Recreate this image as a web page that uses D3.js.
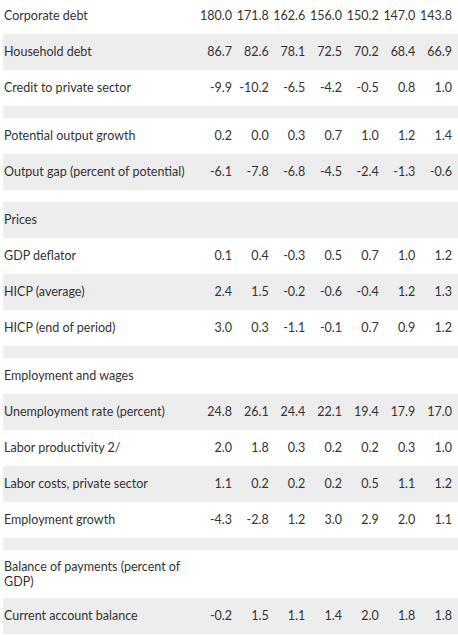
<!DOCTYPE html>
<html><head><meta charset="utf-8">
<script src="https://cdn.jsdelivr.net/npm/d3@7"></script>
<style>
html,body{margin:0;padding:0;background:#fff;overflow:hidden}
text{font-family:Lato,"Open Sans",sans-serif;fill:#333}
</style></head>
<body><svg id="chart" width="458" height="635"></svg>
<script>
// ---- data ----
const columns = ["c1","c2","c3","c4","c5","c6","c7"];
const rowLabels = [
  "Corporate debt","Household debt","Credit to private sector","",
  "Potential output growth","Output gap (percent of potential)","",
  "Prices","GDP deflator","HICP (average)","HICP (end of period)","",
  "Employment and wages","Unemployment rate (percent)","Labor productivity 2/",
  "Labor costs, private sector","Employment growth","",
  "Balance of payments (percent of GDP)","Current account balance"
];
const corporateDebt = [180.0,171.8,162.6,156.0,150.2,147.0,143.8];
const householdDebt = [86.7,82.6,78.1,72.5,70.2,68.4,66.9];
const creditPrivate = [-9.9,-10.2,-6.5,-4.2,-0.5,0.8,1.0];
const potentialGrowth = [0.2,0.0,0.3,0.7,1.0,1.2,1.4];
const outputGap = [-6.1,-7.8,-6.8,-4.5,-2.4,-1.3,-0.6];
const gdpDeflator = [0.1,0.4,-0.3,0.5,0.7,1.0,1.2];
const hicpAvg = [2.4,1.5,-0.2,-0.6,-0.4,1.2,1.3];
const hicpEnd = [3.0,0.3,-1.1,-0.1,0.7,0.9,1.2];
const unemployment = [24.8,26.1,24.4,22.1,19.4,17.9,17.0];
const laborProductivity = [2.0,1.8,0.3,0.2,0.2,0.3,1.0];
const laborCosts = [1.1,0.2,0.2,0.2,0.5,1.1,1.2];
const employmentGrowth = [-4.3,-2.8,1.2,3.0,2.9,2.0,1.1];
const currentAccount = [-0.2,1.5,1.1,1.4,2.0,1.8,1.8];
const rowValues = [
  corporateDebt,householdDebt,creditPrivate,null,
  potentialGrowth,outputGap,null,
  null,gdpDeflator,hicpAvg,hicpEnd,null,
  null,unemployment,laborProductivity,laborCosts,employmentGrowth,null,
  null,currentAccount
];

// ---- layout ----
const W = 458;
const svg = d3.select("#chart");
const rows = rowLabels.map((label,i)=>{
  const spacer = label==="";
  const wrapped = label.length>34;
  return {label, values:rowValues[i], h: spacer?12:(wrapped?48:36), wrapped, i};
});
let acc = -2;
rows.forEach(r=>{ r.y = acc; acc += r.h; });

const x = d3.scaleBand().domain(columns).range([195.3, 452]).padding(0);

const g = svg.selectAll("g.row").data(rows).join("g").attr("class","row")
  .attr("transform", d=>`translate(0,${d.y})`);

g.filter(d=>d.i%2===1).append("rect")
  .attr("x",3).attr("y",0).attr("width",W-3).attr("height",d=>d.h)
  .attr("fill","#ededed");

const fmt = d3.formatLocale({decimal:".",thousands:",",grouping:[3],currency:["",""],minus:"-"}).format(".1f");
const fs = 12.5;

g.filter(d=>d.label!=="" && !d.wrapped).append("text")
  .attr("x",4).attr("y",d=>d.h/2).attr("dy","0.35em")
  .style("font-size",fs+"px").text(d=>d.label);

g.filter(d=>d.wrapped).each(function(d){
  const t = d3.select(this).append("text").style("font-size",fs+"px");
  const words = d.label.split(" ");
  const first = words.slice(0,5).join(" "), second = words.slice(5).join(" ");
  t.append("tspan").attr("x",4).attr("y",d.h/2-7.5).attr("dy","0.35em").text(first);
  t.append("tspan").attr("x",4).attr("y",d.h/2+7.5).attr("dy","0.35em").text(second);
});

g.filter(d=>d.values).selectAll("text.v")
  .data(d=>d.values.map((v,j)=>({v,col:columns[j],h:d.h})))
  .join("text").attr("class","v")
  .attr("x",d=>x(d.col)+x.bandwidth())
  .attr("y",d=>d.h/2).attr("dy","0.35em")
  .attr("text-anchor","end")
  .style("font-size",fs+"px")
  .text(d=>fmt(d.v));
</script>
</body></html>
